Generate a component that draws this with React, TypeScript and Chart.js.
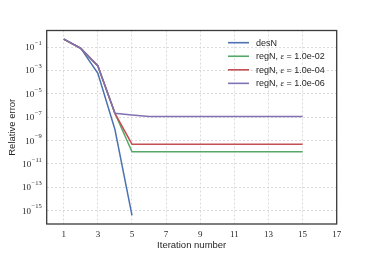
import React, { useEffect, useRef } from "react";
import { Chart, registerables } from "chart.js";

Chart.register(...registerables);

// Data
const iterDes = [1, 2, 3, 4, 5];
const desN = [0.5, 0.08, 6e-4, 9e-9, 4e-16];

const iterReg = [1, 2, 3, 4, 5, 6, 7, 8, 9, 10, 11, 12, 13, 14, 15];
const regN_e2 = [0.5, 0.08, 2.5e-3, 2.2e-7, 1.1e-10, 1.1e-10, 1.1e-10, 1.1e-10, 1.1e-10, 1.1e-10, 1.1e-10, 1.1e-10, 1.1e-10, 1.1e-10, 1.1e-10];
const regN_e4 = [0.5, 0.08, 2.5e-3, 2.2e-7, 5e-10, 5e-10, 5e-10, 5e-10, 5e-10, 5e-10, 5e-10, 5e-10, 5e-10, 5e-10, 5e-10];
const regN_e6 = [0.5, 0.08, 2.5e-3, 2.2e-7, 1.6e-7, 1.2e-7, 1.2e-7, 1.2e-7, 1.2e-7, 1.2e-7, 1.2e-7, 1.2e-7, 1.2e-7, 1.2e-7, 1.2e-7];

const seriesNames = ["desN", "regN", "regN", "regN"];
const epsLabels = ["", "1.0e-02", "1.0e-04", "1.0e-06"];
const seriesColors = ["#4C72B0", "#55A868", "#C44E52", "#8172B2"];

const xTicks = [1, 3, 5, 7, 9, 11, 13, 15, 17];
const yTickExponents = [-1, -3, -5, -7, -9, -11, -13, -15];

const xTitle = "Iteration number";
const yTitle = "Relative error";

const SANS = "'Liberation Sans', Arial, sans-serif";
const SERIF = "'Liberation Serif', 'DejaVu Serif', serif";
const TEXT = "#262626";

const pts = (xs: number[], ys: number[]) => ys.map((y, i) => ({ x: xs[i], y }));

const overlayPlugin = {
  id: "overlay",
  afterDraw(chart: any) {
    const { ctx, chartArea } = chart;
    const yScale = chart.scales.y;
    ctx.save();
    // frame
    ctx.strokeStyle = "#3a3a3a";
    ctx.lineWidth = 1.3;
    ctx.strokeRect(chartArea.left, chartArea.top, chartArea.right - chartArea.left, chartArea.bottom - chartArea.top);

    // y tick labels with superscripts
    ctx.fillStyle = TEXT;
    ctx.textBaseline = "middle";
    for (const e of yTickExponents) {
      const y = yScale.getPixelForValue(Math.pow(10, e));
      const sup = "\u2212" + String(Math.abs(e));
      ctx.font = `6.5px ${SERIF}`;
      const supW = ctx.measureText(sup).width;
      const rightX = chartArea.left - 5;
      ctx.textAlign = "left";
      ctx.fillText(sup, rightX - supW, y - 4);
      ctx.font = `9px ${SERIF}`;
      ctx.textAlign = "right";
      ctx.fillText("10", rightX - supW - 0.5, y + 0.5);
    }

    // legend
    const lx0 = 228;
    const lx1 = 249;
    const tx = 256;
    for (let i = 0; i < seriesNames.length; i++) {
      const y = 42.7 + i * 13.55;
      ctx.strokeStyle = seriesColors[i];
      ctx.lineWidth = 1.6;
      ctx.beginPath();
      ctx.moveTo(lx0, y);
      ctx.lineTo(lx1, y);
      ctx.stroke();
      ctx.fillStyle = TEXT;
      ctx.textAlign = "left";
      ctx.textBaseline = "middle";
      let x = tx;
      if (!epsLabels[i]) {
        ctx.font = `9px ${SANS}`;
        ctx.fillText(seriesNames[i], x, y + 0.5);
      } else {
        ctx.font = `9px ${SANS}`;
        const a = seriesNames[i] + ", ";
        ctx.fillText(a, x, y + 0.5);
        x += ctx.measureText(a).width;
        ctx.font = `italic 9px ${SERIF}`;
        ctx.fillText("\u03B5", x, y + 0.5);
        x += ctx.measureText("\u03B5").width;
        ctx.font = `9px ${SANS}`;
        ctx.fillText(" = " + epsLabels[i], x, y + 0.5);
      }
    }
    ctx.restore();
  },
};

export default function App() {
  const ref = useRef<HTMLCanvasElement | null>(null);

  useEffect(() => {
    if (!ref.current) return;
    const gridColor = "#d2d2d2";
    const chart = new Chart(ref.current, {
      type: "line",
      data: {
        datasets: [
          { label: "desN", data: pts(iterDes, desN), borderColor: seriesColors[0], order: 3 },
          { label: "regN, eps = 1.0e-02", data: pts(iterReg, regN_e2), borderColor: seriesColors[1], order: 2 },
          { label: "regN, eps = 1.0e-04", data: pts(iterReg, regN_e4), borderColor: seriesColors[2], order: 1 },
          { label: "regN, eps = 1.0e-06", data: pts(iterReg, regN_e6), borderColor: seriesColors[3], order: 0 },
        ].map((d) => ({ ...d, borderWidth: 1.5, pointRadius: 0, tension: 0, fill: false })),
      },
      options: {
        animation: false,
        responsive: false,
        maintainAspectRatio: false,
        layout: { padding: { top: 30.5, right: 37.3, left: 0, bottom: 0 } },
        plugins: { legend: { display: false }, tooltip: { enabled: false } },
        scales: {
          x: {
            type: "linear",
            min: 0,
            max: 17,
            afterBuildTicks: (s: any) => {
              s.ticks = xTicks.map((v) => ({ value: v }));
            },
            afterFit: (s: any) => {
              s.height = 33;
            },
            grid: { color: gridColor, lineWidth: 0.8, drawTicks: false },
            border: { display: false, dash: [2, 2] },
            ticks: {
              font: { family: SERIF, size: 9 },
              color: TEXT,
              padding: 5,
              maxRotation: 0,
              autoSkip: false,
            },
            title: {
              display: true,
              text: xTitle,
              font: { family: SANS, size: 9.5 },
              color: TEXT,
              padding: { top: 0, bottom: 6.3 },
            },
          },
          y: {
            type: "logarithmic",
            min: 7.2e-17,
            max: 2.75,
            afterBuildTicks: (s: any) => {
              s.ticks = yTickExponents.map((e) => ({ value: Math.pow(10, e) }));
            },
            afterFit: (s: any) => {
              s.width = 46.7;
            },
            grid: { color: gridColor, lineWidth: 0.8, drawTicks: false },
            border: { display: false, dash: [2, 2] },
            ticks: { display: false },
            title: {
              display: true,
              text: yTitle,
              font: { family: SANS, size: 9.5 },
              color: TEXT,
              padding: { top: 7, bottom: 0 },
            },
          },
        },
      },
      plugins: [overlayPlugin],
    } as any);
    return () => chart.destroy();
  }, []);

  return (
    <div style={{ position: "fixed", left: 0, top: 0, width: 374, height: 257, background: "#fff" }}>
      <canvas ref={ref} width={374} height={257} style={{ width: 374, height: 257, display: "block" }} />
    </div>
  );
}
